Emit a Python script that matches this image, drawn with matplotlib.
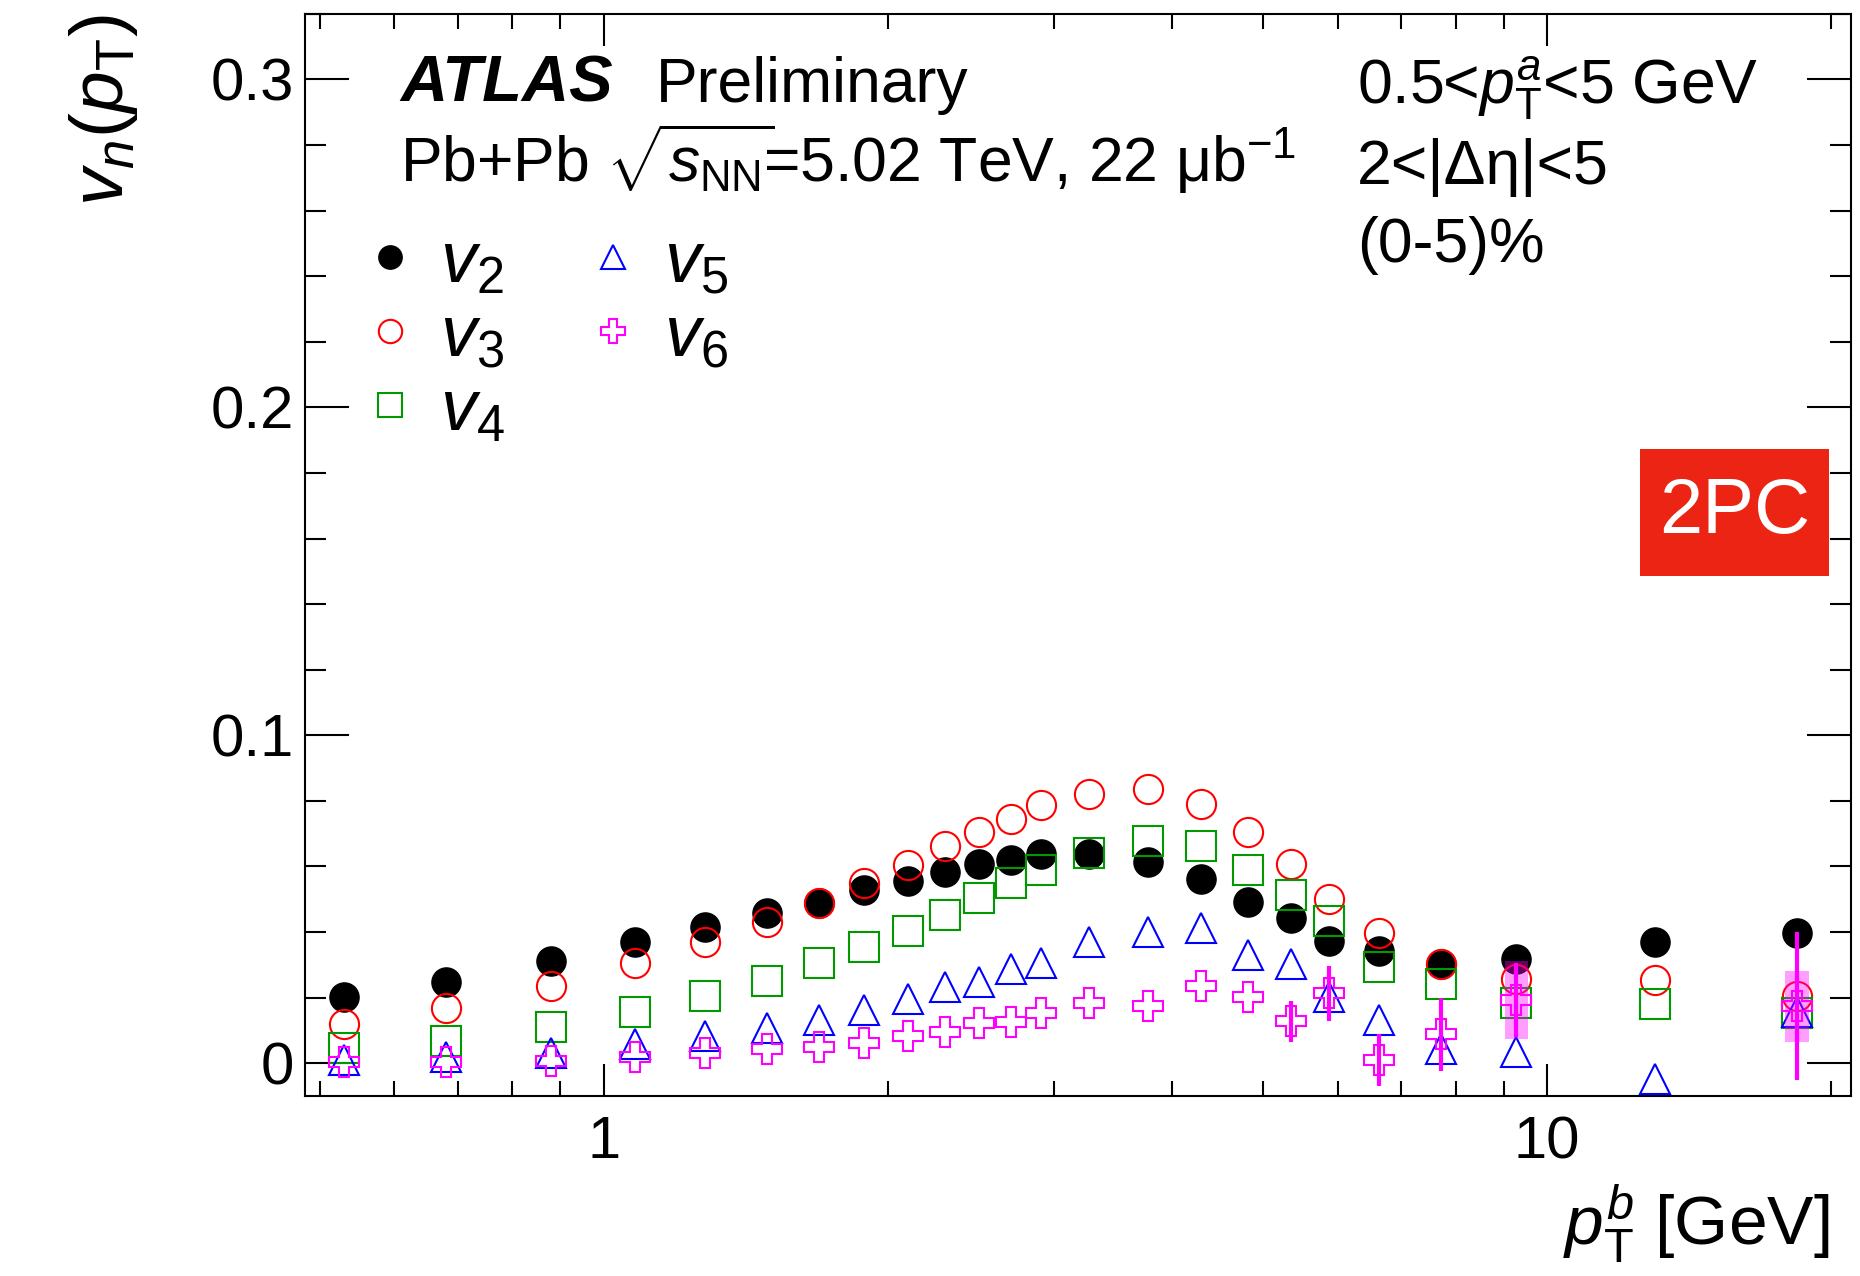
import numpy as np
import matplotlib
matplotlib.use('Agg')
import matplotlib.pyplot as plt
from matplotlib.patches import Rectangle
from matplotlib.ticker import (FixedLocator, FixedFormatter, LogLocator,
                               MultipleLocator, NullFormatter, FuncFormatter)

# pT^b bin centres [GeV]
pt_b = [0.53, 0.68, 0.88, 1.08, 1.28, 1.49, 1.69, 1.89, 2.10, 2.30, 2.50, 2.70,
        2.91, 3.27, 3.78, 4.30, 4.82, 5.35, 5.87, 6.63, 7.71, 9.28, 13.0, 18.4]

v2 = [0.0203, 0.0247, 0.0312, 0.0369, 0.0415, 0.0457, 0.0489, 0.0528, 0.0556,
      0.0584, 0.0606, 0.0621, 0.0637, 0.0639, 0.0613, 0.0563, 0.0492, 0.0443,
      0.0373, 0.0343, 0.0303, 0.0317, 0.0370, 0.0396]
v3 = [0.0120, 0.0168, 0.0236, 0.0305, 0.0371, 0.0431, 0.0489, 0.0548, 0.0604,
      0.0662, 0.0706, 0.0744, 0.0787, 0.0822, 0.0835, 0.0790, 0.0706, 0.0607,
      0.0500, 0.0398, 0.0302, 0.0256, 0.0253, 0.0206]
v4 = [0.0046, 0.0069, 0.0110, 0.0157, 0.0204, 0.0252, 0.0305, 0.0353, 0.0403,
      0.0452, 0.0503, 0.0548, 0.0589, 0.0640, 0.0677, 0.0663, 0.0589, 0.0512,
      0.0434, 0.0292, 0.0241, 0.0185, 0.0180, 0.0153]
v5 = [0.0010, 0.0020, 0.0032, 0.0058, 0.0082, 0.0106, 0.0133, 0.0162, 0.0195,
      0.0231, 0.0249, 0.0287, 0.0307, 0.0371, 0.0400, 0.0412, 0.0329, 0.0302,
      0.0201, 0.0131, 0.0044, 0.0034, -0.0047, 0.0155]
v6 = [0.0005, 0.0005, 0.0008, 0.0018, 0.0030, 0.0043, 0.0049, 0.0063, 0.0083,
      0.0094, 0.0124, 0.0127, 0.0154, 0.0185, 0.0175, 0.0235, 0.0201, 0.0128,
      0.0213, 0.0010, 0.0088, 0.0193, np.nan, 0.0174]
# v6 statistical / systematic uncertainties (others are hidden by markers)
v6_stat = [0, 0, 0, 0, 0, 0, 0, 0, 0, 0, 0, 0, 0, 0, 0, 0, 0, 0.0062,
           0.0083, 0.0079, 0.0111, 0.0114, np.nan, 0.0226]
v6_sys = [0, 0, 0, 0, 0, 0, 0, 0, 0, 0, 0, 0, 0, 0, 0, 0, 0, 0,
          0, 0, 0, 0.0119, np.nan, 0.0108]

plt.rcParams['font.family'] = 'Liberation Sans'
plt.rcParams['mathtext.fontset'] = 'custom'
plt.rcParams['mathtext.rm'] = 'Liberation Sans'
plt.rcParams['mathtext.it'] = 'Liberation Sans:italic'
plt.rcParams['mathtext.bf'] = 'Liberation Sans:bold'

fig = plt.figure(figsize=(18.6, 12.76), dpi=100)
ax = fig.add_axes([0.164, 0.1411, 0.8312, 0.848])

MS = 21
MEW = 1.5
ax.plot(pt_b, v2, 'o', ms=MS, color='black', label=r'$v_{2}$', zorder=3)
ax.plot(pt_b, v3, 'o', ms=MS, mfc='none', mec='#ff0000', mew=MEW,
        label=r'$v_{3}$', zorder=4)
ax.plot(pt_b, v4, 's', ms=MS, mfc='none', mec='#009900', mew=MEW,
        label=r'$v_{4}$', zorder=5)
ax.plot(pt_b, v5, '^', ms=MS, mfc='none', mec='#0000ff', mew=MEW,
        label=r'$v_{5}$', zorder=6)

# systematic boxes for v6, fixed width in log-x
half_w = 0.0125
for x, y, s in zip(pt_b, v6, v6_sys):
    if s > 0:
        x0 = x * 10 ** (-half_w)
        x1 = x * 10 ** half_w
        ax.add_patch(Rectangle((x0, y - s), x1 - x0, 2 * s, facecolor='#ff00ff',
                               alpha=0.38, edgecolor='none', zorder=6.5))
ax.errorbar(pt_b, v6, yerr=v6_stat, fmt='none', ecolor='#ff00ff',
            elinewidth=3, capsize=0, zorder=7)
ax.plot(pt_b, v6, 'P', ms=MS + 1, mfc='none', mec='#ff00ff', mew=MEW,
        label=r'$v_{6}$', zorder=8)

ax.set_xscale('log')
ax.set_xlim(0.4825, 21)
ax.set_ylim(-0.01, 0.32)

ax.xaxis.set_major_locator(FixedLocator([1, 10]))
ax.xaxis.set_major_formatter(FixedFormatter(['1', '10']))
ax.xaxis.set_minor_locator(LogLocator(base=10, subs=np.arange(2, 10)))
ax.xaxis.set_minor_formatter(NullFormatter())
ax.yaxis.set_major_locator(MultipleLocator(0.1))
ax.yaxis.set_minor_locator(MultipleLocator(0.02))
ax.yaxis.set_major_formatter(FuncFormatter(lambda v, _: '0' if abs(v) < 1e-9 else f'{v:g}'))

ax.tick_params(axis='both', which='both', direction='in', top=True, right=True, width=1.5)
ax.tick_params(axis='x', which='major', length=23, pad=14, labelsize=43)
ax.tick_params(axis='x', which='minor', length=11)
ax.tick_params(axis='y', which='major', length=32, pad=8, labelsize=43)
ax.tick_params(axis='y', which='minor', length=15)
for sp in ax.spines.values():
    sp.set_linewidth(1.5)

ax.set_ylabel(r'$v_{n}(p_{\mathrm{T}})$', fontsize=54, loc='top')
ax.yaxis.set_label_coords(-0.107, 1.0)
ax.set_xlabel(r'$p_{\mathrm{T}}^{b}$ [GeV]', fontsize=50, loc='right')
ax.xaxis.set_label_coords(0.986, -0.08)

ax.legend(ncol=2, loc='upper left', bbox_to_anchor=(0.036, 0.80), frameon=False,
          fontsize=52, markerscale=0.8, handlelength=0.8, handletextpad=0.3,
          columnspacing=1.1, labelspacing=0.1, borderpad=0, borderaxespad=0)

# labels
W, H = 1860, 1276
fig.text(400 / W, 1 - 102 / H, 'ATLAS', fontsize=47, fontweight='bold',
         fontstyle='italic', va='baseline')
fig.text(656 / W, 1 - 102 / H, 'Preliminary', fontsize=45, va='baseline')
fig.text(400 / W, 1 - 182 / H,
         r'Pb+Pb $\sqrt{s_{\mathrm{NN}}}\!$=5.02 TeV, 22 μb$^{\mathrm{-1}}$',
         fontsize=45, va='baseline')
fig.text(1357 / W, 1 - 103 / H, r'0.5<$p_{\mathrm{T}}^{a}$<5 GeV', fontsize=45, va='baseline')
fig.text(1357 / W, 1 - 184 / H, '2<|Δη|<5', fontsize=45, va='baseline')
fig.text(1357 / W, 1 - 262 / H, '(0-5)%', fontsize=45, va='baseline')

# 2PC tag
fig.patches.append(Rectangle((1640 / W, 1 - 576 / H), 189 / W, 127 / H,
                             transform=fig.transFigure, facecolor='#ec2414',
                             edgecolor='none'))
fig.text(1734.5 / W, 1 - 512 / H, '2PC', fontsize=56, color='white',
         ha='center', va='center')

fig.savefig('out.png', dpi=100)
